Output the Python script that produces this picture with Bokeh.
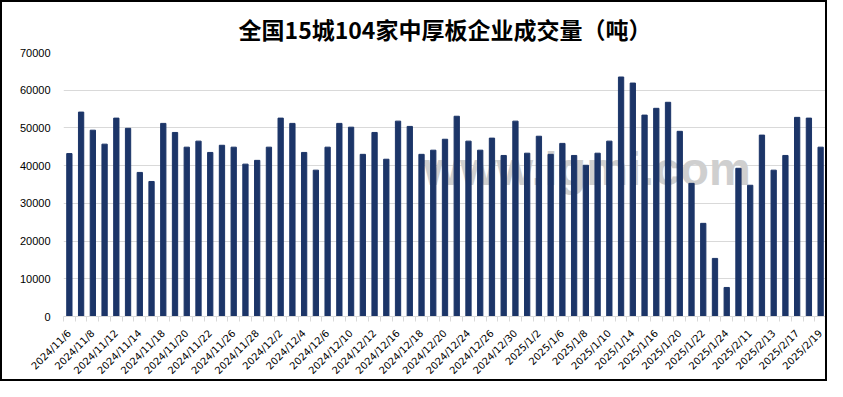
from bokeh.plotting import figure
from bokeh.models import FixedTicker, Range1d, Label, ColumnDataSource
from bokeh.embed import file_html
from bokeh.resources import INLINE
import math

dates = ["2024/11/6","2024/11/7","2024/11/8","2024/11/11","2024/11/12","2024/11/13","2024/11/14","2024/11/15",
         "2024/11/18","2024/11/19","2024/11/20","2024/11/21","2024/11/22","2024/11/25","2024/11/26","2024/11/27",
         "2024/11/28","2024/11/29","2024/12/2","2024/12/3","2024/12/4","2024/12/5","2024/12/6","2024/12/9",
         "2024/12/10","2024/12/11","2024/12/12","2024/12/13","2024/12/16","2024/12/17","2024/12/18","2024/12/19",
         "2024/12/20","2024/12/23","2024/12/24","2024/12/25","2024/12/26","2024/12/27","2024/12/30","2024/12/31",
         "2025/1/2","2025/1/3","2025/1/6","2025/1/7","2025/1/8","2025/1/9","2025/1/10","2025/1/13",
         "2025/1/14","2025/1/15","2025/1/16","2025/1/17","2025/1/20","2025/1/21","2025/1/22","2025/1/23",
         "2025/1/24","2025/2/10","2025/2/11","2025/2/12","2025/2/13","2025/2/14","2025/2/17","2025/2/18",
         "2025/2/19"]

volume = [43200, 54200, 49400, 45700, 52600, 49900, 38200, 35800, 51200, 48800,
          44900, 46500, 43500, 45400, 44900, 40400, 41400, 44900, 52600, 51200,
          43500, 38800, 44900, 51200, 50200, 43000, 48800, 41700, 51800, 50400,
          43000, 44100, 47000, 53100, 46500, 44100, 47300, 42700, 51800, 43300,
          47800, 43000, 45900, 42700, 40100, 43300, 46500, 63500, 61900, 53400,
          55200, 56800, 49100, 35300, 24700, 15400, 7700, 39300, 34800, 48100,
          38800, 42700, 52800, 52600, 44900]

y_ticks = [0, 10000, 20000, 30000, 40000, 50000, 60000, 70000]
title_text = "全国15城104家中厚板企业成交量（吨）"
watermark_text = "www.lgmi.com"

idx = list(range(1, len(dates) + 1))
src = ColumnDataSource(dict(x=idx, y=volume, d=dates))

p = figure(width=827, height=381, output_backend="svg", toolbar_location=None,
           x_range=Range1d(0.5, len(dates) + 0.5), y_range=Range1d(y_ticks[0], y_ticks[-1]),
           min_border_left=61, min_border_right=3, min_border_top=50, min_border_bottom=67)

p.title.text = title_text
p.title.align = "center"
p.title.vertical_align = "top"
p.title.text_font = "Noto Sans CJK SC"
p.title.text_font_size = "23px"
p.title.text_font_style = "bold"
p.title.text_color = "#000000"
p.title.standoff = 10

p.outline_line_color = None
p.background_fill_color = "white"
p.border_fill_color = "white"
p.styles = {"border": "2px solid black", "box-sizing": "border-box"}

# watermark
wm = Label(x=360, y=122, x_units="screen", y_units="screen", text=watermark_text,
           text_font="Liberation Sans", text_font_style="bold", text_font_size="47px",
           text_color="#cfcfcf", level="underlay")
p.add_layout(wm)

p.vbar(x="x", top="y", width=0.45, source=src, color="#1c3568")

p.yaxis.ticker = FixedTicker(ticks=y_ticks)
p.yaxis.axis_line_color = None
p.yaxis.major_tick_line_color = None
p.yaxis.minor_tick_line_color = None
p.yaxis.major_label_text_font = "Liberation Sans"
p.yaxis.major_label_text_font_size = "11px"
p.yaxis.major_label_text_color = "#000000"
p.yaxis.major_label_standoff = 7

p.ygrid.grid_line_color = "#d9d9d9"
p.ygrid.grid_line_width = 1
p.xgrid.grid_line_color = None

label_ticks = idx[::2]
p.xaxis.ticker = FixedTicker(ticks=label_ticks, minor_ticks=[i + 0.5 for i in range(0, len(dates) + 1)])
p.xaxis.major_label_overrides = {i: dates[i - 1] for i in label_ticks}
p.xaxis.major_label_orientation = math.pi / 4
p.xaxis.major_label_text_font = "DejaVu Sans"
p.xaxis.major_label_text_font_size = "10px"
p.xaxis.major_label_text_color = "#000000"
p.xaxis.axis_line_color = "#d9d9d9"
p.xaxis.major_tick_line_color = None
p.xaxis.minor_tick_line_color = "#d9d9d9"
p.xaxis.minor_tick_out = 5
p.xaxis.minor_tick_in = 0
p.xaxis.major_label_standoff = 9

open("out.html", "w").write(file_html(p, INLINE))
